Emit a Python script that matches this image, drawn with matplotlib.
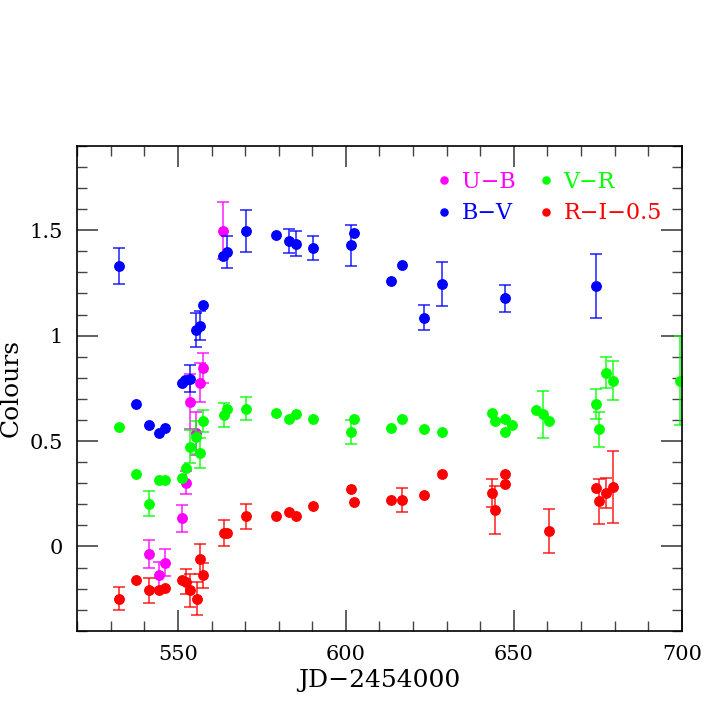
import numpy as np
from matplotlib import pyplot as plt
from matplotlib.ticker import MultipleLocator, FormatStrFormatter

# U-B
ub_x = [541.3, 544.4, 546.2, 551.3, 552.5, 553.5, 555.5, 556.5, 557.5, 563.5]
ub_y = [-0.037, -0.134, -0.077, 0.134, 0.303, 0.686, 0.536, 0.776, 0.846, 1.498]
ub_e = [0.067, 0.062, 0.064, 0.063, 0.053, 0.13, 0.10, 0.093, 0.073, 0.136]

# B-V
bv_x = [532.5, 537.4, 541.3, 544.4, 546.2, 551.2, 552.2, 553.5, 555.5, 556.7,
        557.6, 563.5, 564.5, 570.3, 579.3, 583.1, 585.2, 590.3, 601.6, 602.4,
        613.3, 616.7, 623.4, 628.6, 647.5, 674.4]
bv_y = [1.33, 0.675, 0.575, 0.536, 0.562, 0.776, 0.789, 0.796, 1.026, 1.047,
        1.146, 1.376, 1.398, 1.498, 1.477, 1.449, 1.436, 1.417, 1.428, 1.487,
        1.257, 1.336, 1.085, 1.246, 1.177, 1.235]
bv_e = [0.085, 0, 0, 0, 0, 0, 0, 0.065, 0.08, 0.07,
        0, 0, 0.076, 0.10, 0, 0.058, 0.059, 0.057, 0.097, 0,
        0, 0, 0.058, 0.104, 0.064, 0.153]

# V-R
vr_x = [532.5, 537.6, 541.3, 544.4, 546.2, 551.2, 552.5, 553.5, 555.5, 556.6,
        557.6, 563.6, 564.6, 570.3, 579.3, 583.2, 585.2, 590.3, 601.6, 602.4,
        613.3, 616.7, 623.4, 628.6, 643.4, 644.4, 647.5, 647.5, 649.5, 656.5,
        658.6, 660.4, 674.4, 675.4, 677.4, 679.4, 699.5]
vr_y = [0.565, 0.343, 0.203, 0.314, 0.314, 0.323, 0.374, 0.474, 0.517, 0.444,
        0.596, 0.624, 0.654, 0.654, 0.634, 0.605, 0.626, 0.605, 0.543, 0.605,
        0.564, 0.605, 0.555, 0.543, 0.635, 0.596, 0.605, 0.543, 0.575, 0.645,
        0.626, 0.594, 0.676, 0.555, 0.825, 0.786, 0.786]
vr_e = [0, 0, 0.059, 0, 0, 0, 0, 0.08, 0.077, 0.072,
        0.053, 0.058, 0, 0.055, 0, 0, 0, 0, 0.057, 0,
        0, 0, 0, 0, 0, 0, 0, 0, 0, 0,
        0.112, 0, 0.072, 0.081, 0.072, 0.092, 0.21]

# R-I-0.5
ri_x = [532.5, 537.5, 541.3, 544.4, 546.2, 551.2, 552.5, 553.5, 555.6, 556.5,
        557.6, 563.6, 564.6, 570.3, 579.3, 583.2, 585.2, 590.3, 601.6, 602.4,
        613.3, 616.7, 623.4, 628.6, 643.4, 644.4, 647.5, 647.5, 660.4, 674.4,
        675.4, 677.4, 679.4]
ri_y = [-0.248, -0.158, -0.208, -0.208, -0.197, -0.158, -0.167, -0.208, -0.248, -0.058,
        -0.137, 0.064, 0.064, 0.143, 0.143, 0.164, 0.143, 0.192, 0.273, 0.213,
        0.222, 0.222, 0.243, 0.344, 0.254, 0.173, 0.344, 0.294, 0.073, 0.275,
        0.214, 0.254, 0.284]
ri_e = [0.055, 0, 0.058, 0, 0, 0, 0.06, 0.078, 0.079, 0.071,
        0.059, 0.063, 0, 0.059, 0, 0, 0, 0, 0, 0,
        0, 0.057, 0, 0, 0.068, 0.114, 0, 0, 0.104, 0,
        0.108, 0.072, 0.171]

series = [
    ('U\u2212B', ub_x, ub_y, ub_e, '#ff00ff'),
    ('B\u2212V', bv_x, bv_y, bv_e, '#0000ff'),
    ('V\u2212R', vr_x, vr_y, vr_e, '#00ff00'),
    ('R\u2212I\u22120.5', ri_x, ri_y, ri_e, '#ff0000'),
]

plt.rcParams['font.family'] = ['DejaVu Serif']

fig = plt.figure(figsize=(7.08, 7.08), dpi=100)
ax = fig.add_axes([0.109, 0.109, 0.854, 0.685])

handles = []
for name, x, y, e, col in series:
    x = np.array(x)
    y = np.array(y)
    e = np.array(e)
    m = e > 0
    ax.errorbar(x[m], y[m], yerr=e[m], fmt='none', ecolor=col, elinewidth=1.3,
                capsize=4, capthick=1.3, alpha=0.75)
    h, = ax.plot(x, y, 'o', color=col, markersize=6.8, linestyle='none', label=name)
    handles.append(h)

ax.set_xlim(520, 700)
ax.set_ylim(-0.4, 1.9)
ax.xaxis.set_major_locator(MultipleLocator(50))
ax.xaxis.set_minor_locator(MultipleLocator(10))
ax.yaxis.set_major_locator(MultipleLocator(0.5))
ax.yaxis.set_minor_locator(MultipleLocator(0.1))
ax.yaxis.set_major_formatter(FormatStrFormatter('%g'))
ax.tick_params(which='both', direction='in', top=True, right=True, labelsize=15,
               color='#444444')
ax.tick_params(which='major', length=15, width=1.2, pad=10)
ax.tick_params(which='minor', length=7.5, width=1)
for s in ax.spines.values():
    s.set_linewidth(1.2)

ax.set_xlabel('JD\u22122454000', fontsize=18, labelpad=4)
ax.set_ylabel('Colours', fontsize=18)
ax.yaxis.set_label_coords(-0.09, 0.5)

leg = ax.legend(handles=handles, ncol=2, frameon=False, loc='upper right',
                bbox_to_anchor=(1.0, 0.99), fontsize=16, markerscale=0.75,
                handlelength=0.8, handletextpad=0.4, columnspacing=0.95,
                labelspacing=0.44)
for t, (_, _, _, _, col) in zip(leg.get_texts(), series):
    t.set_color(col)

fig.savefig('out.png', dpi=100)
